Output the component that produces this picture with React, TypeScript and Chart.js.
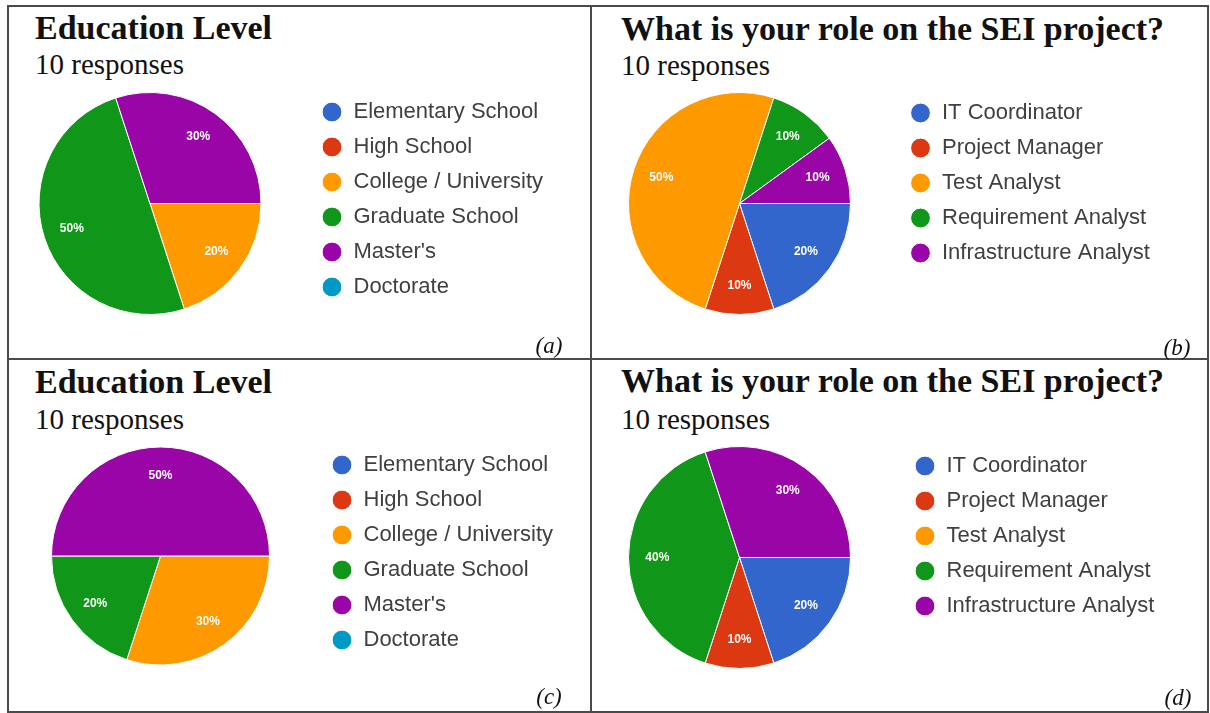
import React, { useEffect, useRef } from 'react';
import { Chart, registerables } from 'chart.js';

Chart.register(...registerables);

// ---------- data ----------
const educationLabels = ['Elementary School', 'High School', 'College / University', 'Graduate School', "Master's", 'Doctorate'];
const educationColors = ['#3366cc', '#dc3912', '#ff9900', '#109618', '#9a05a8', '#0099c6'];
const educationCountsA = [0, 0, 2, 5, 3, 0];
const educationCountsC = [0, 0, 3, 2, 5, 0];

const roleLabels = ['IT Coordinator', 'Project Manager', 'Test Analyst', 'Requirement Analyst', 'Infrastructure Analyst'];
const roleColors = ['#3366cc', '#dc3912', '#ff9900', '#109618', '#9a05a8'];
const roleCountsB = [2, 1, 5, 1, 1];
const roleCountsD = [2, 1, 0, 4, 3];

const educationTitle = 'Education Level';
const roleTitle = 'What is your role on the SEI project?';
const responsesText = '10 responses';
const panelTags = ['(a)', '(b)', '(c)', '(d)'];

const SANS = '"Liberation Sans", Arial, Helvetica, sans-serif';
const SERIF = '"Liberation Serif", "Times New Roman", Times, serif';

const LEGEND_FONT = 22;
const LEGEND_PAD = 13;
const LEGEND_BOXW = 21;

const pctLabels = {
  id: 'pctLabels',
  afterDatasetsDraw(chart: any) {
    const ctx = chart.ctx;
    const meta = chart.getDatasetMeta(0);
    const data = chart.data.datasets[0].data as number[];
    const total = data.reduce((a: number, b: number) => a + b, 0);
    ctx.save();
    ctx.fillStyle = '#ffffff';
    ctx.font = `bold 12px ${SANS}`;
    ctx.textAlign = 'center';
    ctx.textBaseline = 'middle';
    meta.data.forEach((arc: any, i: number) => {
      const v = data[i];
      if (!v) return;
      const p = arc.getProps(['x', 'y', 'startAngle', 'endAngle', 'outerRadius'], true);
      const mid = (p.startAngle + p.endAngle) / 2;
      const rr = p.outerRadius * 0.74;
      ctx.fillText(Math.round((v / total) * 100) + '%', p.x + Math.cos(mid) * rr, p.y + Math.sin(mid) * rr);
    });
    ctx.restore();
  },
};

type PieProps = {
  labels: string[];
  values: number[];
  colors: string[];
  box: [number, number, number, number]; // canvas left, top, width, height (page px)
  cx: number;
  cy: number;
  r: number;
  lx: number; // first legend marker centre x (page px)
  ly: number; // first legend marker centre y (page px)
};

function PieCanvas({ labels, values, colors, box, cx, cy, r, lx, ly }: PieProps) {
  const ref = useRef<HTMLCanvasElement | null>(null);
  const [X, Y, W, H] = box;
  useEffect(() => {
    if (!ref.current) return;
    const placement = {
      id: 'placement',
      afterLayout(chart: any) {
        const s = r + 3;
        const ccx = cx - X;
        const ccy = cy - Y;
        chart.chartArea = {
          left: ccx - s,
          right: ccx + s,
          top: ccy - s,
          bottom: ccy + s,
          width: 2 * s,
          height: 2 * s,
        };
        const lg = chart.legend;
        if (lg) {
          const off = LEGEND_PAD + LEGEND_BOXW / 2;
          const h = lg.height;
          lg.left = lx - off - X;
          lg.right = lg.left + 320;
          lg.width = 320;
          lg.top = ly - (LEGEND_PAD + LEGEND_FONT / 2) - Y;
          lg.bottom = lg.top + h;
        }
      },
    };
    const chart = new Chart(ref.current, {
      type: 'pie',
      data: {
        labels,
        datasets: [
          {
            data: values,
            backgroundColor: colors,
            borderColor: '#ffffff',
            borderWidth: 1,
            hoverOffset: 0,
            radius: r,
          } as any,
        ],
      },
      options: {
        responsive: false,
        animation: false,
        rotation: 90,
        plugins: {
          tooltip: { enabled: false },
          legend: {
            display: true,
            position: 'right',
            align: 'start',
            labels: {
              usePointStyle: true,
              pointStyle: 'circle',
              boxWidth: LEGEND_BOXW,
              boxHeight: 14,
              padding: LEGEND_PAD,
              color: '#404040',
              textAlign: 'left',
              font: { size: LEGEND_FONT, family: SANS },
            },
          } as any,
        },
      },
      plugins: [pctLabels, placement],
    });
    return () => chart.destroy();
  }, []);
  return (
    <canvas
      ref={ref}
      width={W}
      height={H}
      style={{ position: 'absolute', left: X, top: Y, width: W, height: H }}
    />
  );
}

function Text({ text, left, baseline, size, weight = 'normal', italic = false, center = false }: any) {
  const top = baseline - 0.8375 * size;
  return (
    <div
      style={{
        position: 'absolute',
        left,
        top,
        fontFamily: SERIF,
        fontSize: size,
        lineHeight: `${size}px`,
        fontWeight: weight,
        fontStyle: italic ? 'italic' : 'normal',
        color: '#111',
        whiteSpace: 'nowrap',
        transform: center ? 'translateX(-50%)' : undefined,
      }}
    >
      {text}
    </div>
  );
}

const LINE = '#4a4a4a';

function Line({ l, t, w, h }: any) {
  return <div style={{ position: 'absolute', left: l, top: t, width: w, height: h, background: LINE }} />;
}

export default function App() {
  return (
    <div
      style={{
        position: 'fixed',
        left: 0,
        top: 0,
        width: 1210,
        height: 713,
        background: '#ffffff',
        overflow: 'hidden',
      }}
    >
      {/* frame */}
      <Line l={7} t={5} w={1202} h={2} />
      <Line l={7} t={711} w={1202} h={2} />
      <Line l={7} t={5} w={2} h={708} />
      <Line l={1207} t={5} w={2} h={708} />
      <Line l={590} t={5} w={2} h={708} />
      <Line l={7} t={358} w={1202} h={2} />

      {/* panel a */}
      <Text text={educationTitle} left={35} baseline={39} size={34} weight="bold" />
      <Text text={responsesText} left={35} baseline={74} size={29} />
      <PieCanvas labels={educationLabels} values={educationCountsA} colors={educationColors}
        box={[10, 80, 578, 270]} cx={150} cy={203.5} r={111} lx={332} ly={112} />
      <Text text={panelTags[0]} left={549} baseline={353} size={23} italic center />

      {/* panel b */}
      <Text text={roleTitle} left={621} baseline={40} size={34} weight="bold" />
      <Text text={responsesText} left={621} baseline={75} size={29} />
      <PieCanvas labels={roleLabels} values={roleCountsB} colors={roleColors}
        box={[593, 80, 612, 270]} cx={739.5} cy={203.5} r={111} lx={920.5} ly={113} />
      <Text text={panelTags[1]} left={1177} baseline={355} size={23} italic center />

      {/* panel c */}
      <Text text={educationTitle} left={35} baseline={393} size={34} weight="bold" />
      <Text text={responsesText} left={35} baseline={429} size={29} />
      <PieCanvas labels={educationLabels} values={educationCountsC} colors={educationColors}
        box={[10, 435, 578, 270]} cx={160.5} cy={556} r={109} lx={342} ly={465} />
      <Text text={panelTags[2]} left={549} baseline={704} size={23} italic center />

      {/* panel d */}
      <Text text={roleTitle} left={621} baseline={392} size={34} weight="bold" />
      <Text text={responsesText} left={621} baseline={429} size={29} />
      <PieCanvas labels={roleLabels} values={roleCountsD} colors={roleColors}
        box={[593, 435, 612, 270]} cx={739.5} cy={557.5} r={111} lx={925} ly={466} />
      <Text text={panelTags[3]} left={1178} baseline={705} size={23} italic center />
    </div>
  );
}
